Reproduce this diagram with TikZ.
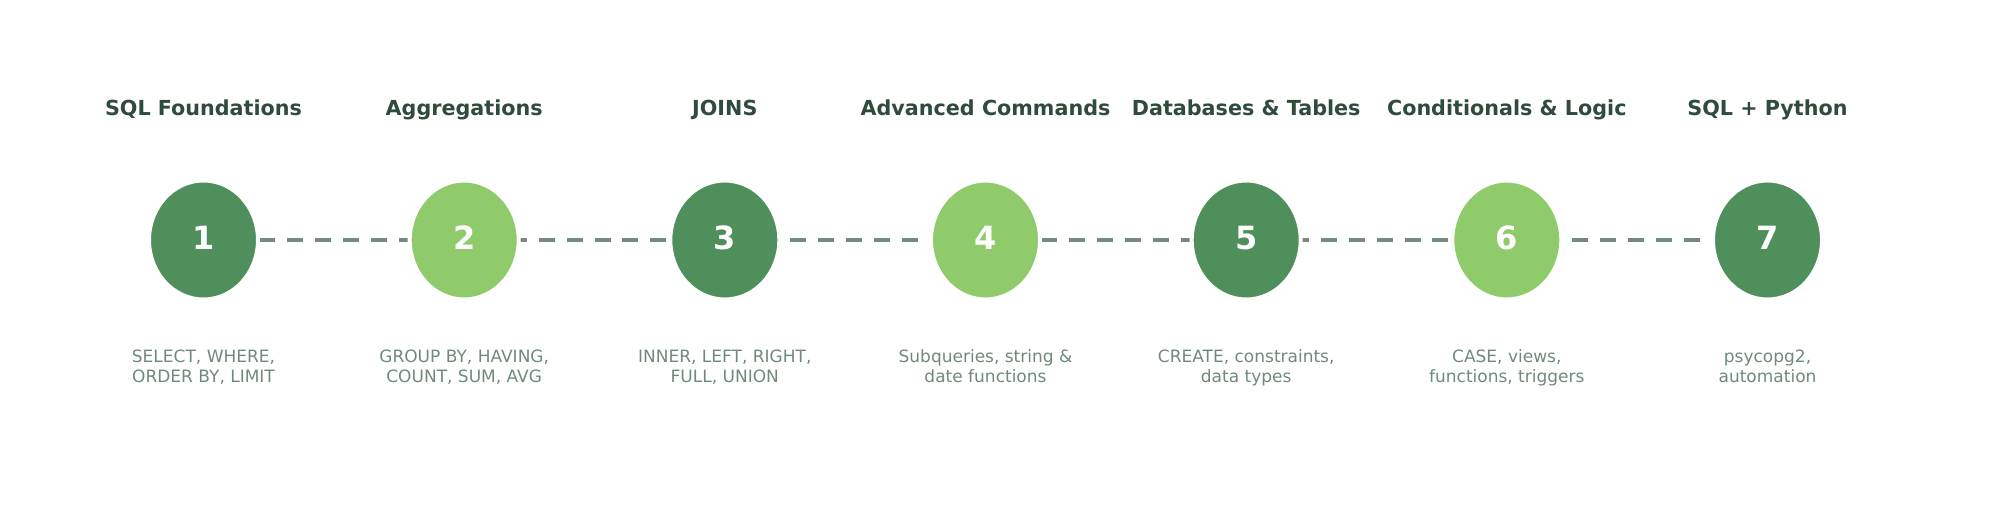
\documentclass[tikz,border=0pt]{standalone}
\usepackage{fontspec}
\setmainfont{DejaVu Sans}
\usetikzlibrary{shapes.geometric,backgrounds}
\definecolor{stepdark}{HTML}{4F8F5B}
\definecolor{steplight}{HTML}{8FCB6B}
\definecolor{titlecol}{HTML}{2F4B3B}
\definecolor{desccol}{HTML}{6F8A7A}
\definecolor{dashcol}{HTML}{728C7C}
\tikzset{
  stepcircle/.style={ellipse, draw=white, line width=4pt, minimum width=109pt, minimum height=119pt, inner sep=0pt, text=white, text depth=4pt, font=\fontsize{32}{32}\selectfont\bfseries},
  darkstep/.style={stepcircle, fill=stepdark},
  lightstep/.style={stepcircle, fill=steplight},
  steptitle/.style={anchor=base, text=titlecol, font=\fontsize{20.7}{25}\selectfont\bfseries, inner sep=0pt},
  stepdesc/.style={anchor=base, text=desccol, font=\fontsize{17}{20}\selectfont, align=center, inner sep=0pt},
  timeline/.style={draw=dashcol, line width=4pt, dash pattern=on 16pt off 11.93pt}
}
\begin{document}
\begin{tikzpicture}[x=1pt,y=-1pt]
\useasboundingbox (0,0) rectangle (1990,522);
\node[darkstep]  (c1) at (203.5,240) {1};
\node[lightstep] (c2) at (464.2,240) {2};
\node[darkstep]  (c3) at (724.8,240) {3};
\node[lightstep] (c4) at (985.5,240) {4};
\node[darkstep]  (c5) at (1246.2,240) {5};
\node[lightstep] (c6) at (1506.8,240) {6};
\node[darkstep]  (c7) at (1767.5,240) {7};
\begin{scope}[on background layer]
\draw[timeline] (c1.center) -- (c2.center) -- (c3.center) -- (c4.center) -- (c5.center) -- (c6.center) -- (c7.center);
\end{scope}
\node[steptitle] (t1) at (203.5,115) {SQL Foundations};
\node[steptitle] (t2) at (464.2,115) {Aggregations};
\node[steptitle] (t3) at (724.8,115) {JOINS};
\node[steptitle] (t4) at (985.5,115) {Advanced Commands};
\node[steptitle] (t5) at (1246.2,115) {Databases \& Tables};
\node[steptitle] (t6) at (1506.8,115) {Conditionals \& Logic};
\node[steptitle] (t7) at (1767.5,115) {SQL + Python};
\node[stepdesc] (d1) at (203.5,382) {SELECT, WHERE,\\ORDER BY, LIMIT};
\node[stepdesc] (d2) at (464.2,382) {GROUP BY, HAVING,\\COUNT, SUM, AVG};
\node[stepdesc] (d3) at (724.8,382) {INNER, LEFT, RIGHT,\\FULL, UNION};
\node[stepdesc] (d4) at (985.5,382) {Subqueries, string \&\\date functions};
\node[stepdesc] (d5) at (1246.2,382) {CREATE, constraints,\\data types};
\node[stepdesc] (d6) at (1506.8,382) {CASE, views,\\functions, triggers};
\node[stepdesc] (d7) at (1767.5,382) {psycopg2,\\automation};
\end{tikzpicture}
\end{document}
